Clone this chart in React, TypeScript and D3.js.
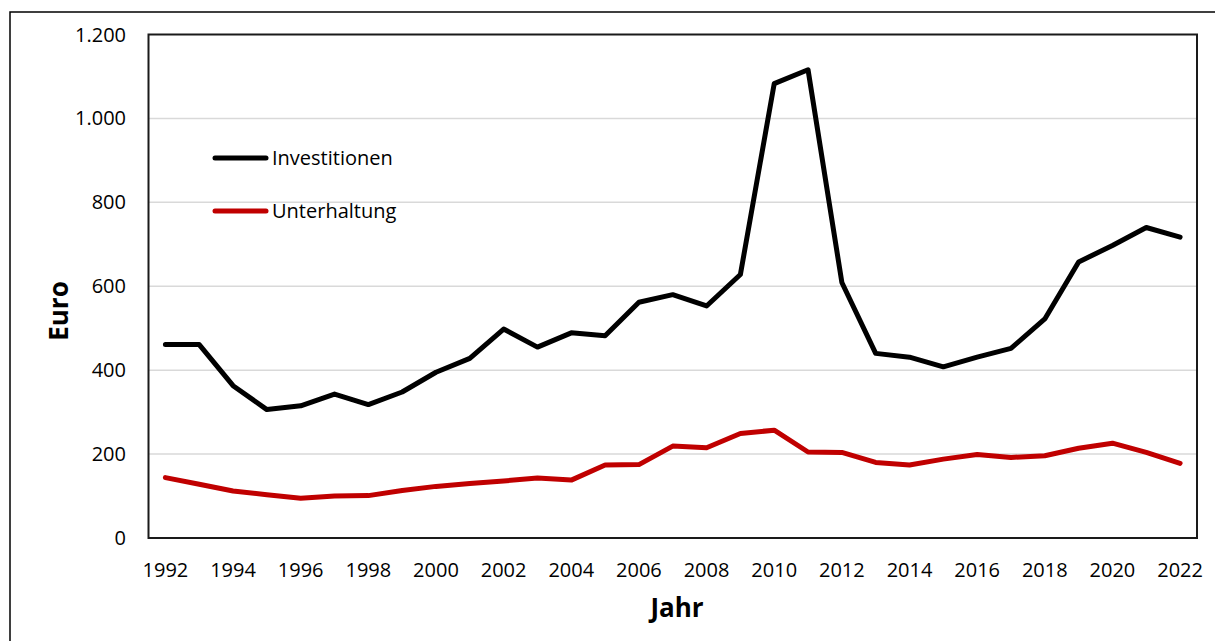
import { useEffect, useRef } from "react";
import * as d3 from "d3";

const years = [
  1992, 1993, 1994, 1995, 1996, 1997, 1998, 1999, 2000, 2001, 2002, 2003, 2004, 2005, 2006, 2007,
  2008, 2009, 2010, 2011, 2012, 2013, 2014, 2015, 2016, 2017, 2018, 2019, 2020, 2021, 2022,
];
const investitionen = [
  461, 461, 363, 306, 315, 343, 318, 348, 395, 428, 498, 455, 489, 482, 562, 580, 553, 628, 1083,
  1116, 609, 440, 431, 408, 431, 452, 522, 658, 697, 740, 717,
];
const unterhaltung = [
  144, 128, 112, 103, 95, 100, 101, 113, 123, 130, 136, 143, 138, 174, 175, 219, 215, 249, 257, 205,
  204, 180, 174, 188, 199, 192, 196, 214, 226, 204, 178,
];
const yTicks = [0, 200, 400, 600, 800, 1000, 1200];
const xTickYears = years.filter((y) => y % 2 === 0);

const series = [
  { name: "Investitionen", values: investitionen, color: "#000000" },
  { name: "Unterhaltung", values: unterhaltung, color: "#C00000" },
];

const W = 1215;
const H = 641;
const FONT = "'Open Sans', sans-serif";

export default function App() {
  const ref = useRef<SVGSVGElement | null>(null);

  useEffect(() => {
    const svg = d3.select(ref.current);
    svg.selectAll("*").remove();

    const plot = { l: 148.5, t: 34.5, r: 1197, b: 538 };

    const x = d3
      .scalePoint<number>()
      .domain(years)
      .range([plot.l, plot.r])
      .padding(0.5);
    const y = d3.scaleLinear().domain([0, 1200]).range([plot.b, plot.t]);

    const de = d3.formatLocale({ decimal: ",", thousands: ".", grouping: [3], currency: ["", " €"] });
    const fmt = de.format(",d");

    svg.append("rect").attr("width", W).attr("height", H).attr("fill", "#fff");

    // äußerer Rahmen
    svg
      .append("rect")
      .attr("x", 10)
      .attr("y", 12)
      .attr("width", W + 20)
      .attr("height", H + 20)
      .attr("fill", "none")
      .attr("stroke", "#000")
      .attr("stroke-width", 1.5);

    // gridlines + y labels
    yTicks.forEach((tv) => {
      if (tv > 0 && tv < 1200) {
        svg
          .append("line")
          .attr("x1", plot.l)
          .attr("x2", plot.r)
          .attr("y1", y(tv))
          .attr("y2", y(tv))
          .attr("stroke", "#d9d9d9")
          .attr("stroke-width", 1.5);
      }
      svg
        .append("text")
        .attr("x", 126)
        .attr("y", y(tv) + 7)
        .attr("text-anchor", "end")
        .attr("font-family", FONT)
        .attr("font-size", 20)
        .attr("fill", "#000")
        .text(fmt(tv));
    });

    // x labels
    xTickYears.forEach((yr) => {
      svg
        .append("text")
        .attr("x", x(yr) ?? 0)
        .attr("y", plot.b + 39)
        .attr("text-anchor", "middle")
        .attr("font-family", FONT)
        .attr("font-size", 20)
        .attr("fill", "#000")
        .text(String(yr));
    });

    // Plotbereich-Rahmen
    svg
      .append("rect")
      .attr("x", plot.l)
      .attr("y", plot.t)
      .attr("width", plot.r - plot.l)
      .attr("height", plot.b - plot.t)
      .attr("fill", "none")
      .attr("stroke", "#1a1a1a")
      .attr("stroke-width", 2);

    const line = d3
      .line<number>()
      .x((_, i) => x(years[i]) ?? 0)
      .y((d) => y(d));

    series.forEach((s) => {
      svg
        .append("path")
        .datum(s.values)
        .attr("fill", "none")
        .attr("stroke", s.color)
        .attr("stroke-width", 5)
        .attr("stroke-linejoin", "round")
        .attr("stroke-linecap", "round")
        .attr("d", line);
    });

    // legend
    series.forEach((s, i) => {
      const ly = 158 + i * 53;
      svg
        .append("line")
        .attr("x1", 215)
        .attr("x2", 266)
        .attr("y1", ly)
        .attr("y2", ly)
        .attr("stroke", s.color)
        .attr("stroke-width", 5)
        .attr("stroke-linecap", "round");
      svg
        .append("text")
        .attr("x", 272)
        .attr("y", ly + 7)
        .attr("font-family", FONT)
        .attr("font-size", 20)
        .attr("fill", "#000")
        .text(s.name);
    });

    // axis titles
    svg
      .append("text")
      .attr("transform", `translate(68,311) rotate(-90)`)
      .attr("text-anchor", "middle")
      .attr("font-family", FONT)
      .attr("font-size", 26)
      .attr("font-weight", "bold")
      .attr("fill", "#000")
      .text("Euro");
    svg
      .append("text")
      .attr("x", 677)
      .attr("y", 617)
      .attr("text-anchor", "middle")
      .attr("font-family", FONT)
      .attr("font-size", 26)
      .attr("font-weight", "bold")
      .attr("fill", "#000")
      .text("Jahr");
  }, []);

  return (
    <svg
      ref={ref}
      width={W}
      height={H}
      style={{ position: "absolute", left: 0, top: 0, display: "block" }}
    />
  );
}
